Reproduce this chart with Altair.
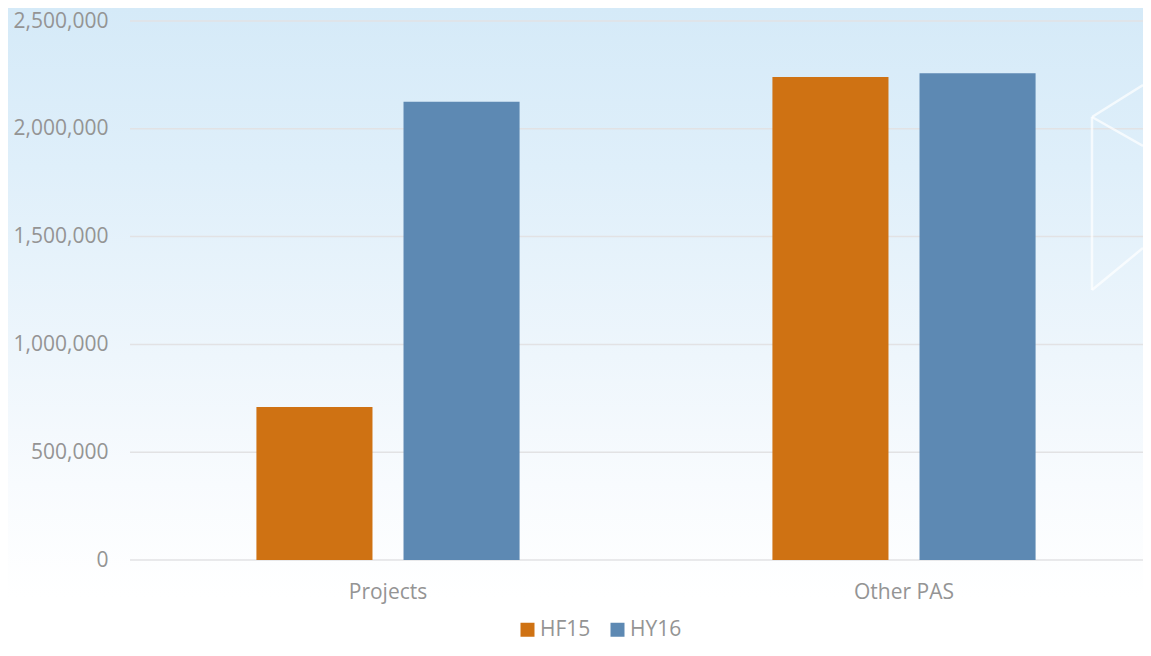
import altair as alt
import pandas as pd

# ---- data ----
categories = ["Projects", "Other PAS"]
series = ["HF15", "HY16"]
hf15_values = [710000, 2240000]
hy16_values = [2125000, 2258000]
y_ticks = [0, 500000, 1000000, 1500000, 2000000, 2500000]
series_colors = ["#CF7213", "#5D89B3"]

rows = []
for i, c in enumerate(categories):
    rows.append({"cat": c, "series": series[0], "value": hf15_values[i]})
    rows.append({"cat": c, "series": series[1], "value": hy16_values[i]})
df = pd.DataFrame(rows)
grid_df = pd.DataFrame({"tick": y_ticks})

# ---- layout / style ----
W, H = 1013, 539
PAD = {"left": 122, "top": 13, "right": 0, "bottom": 82}
FONT = "Open Sans"
GRAY = "#949494"
FS = 21

yscale = alt.Scale(domain=[0, 2500000], nice=False, zero=True)
yaxis = alt.Axis(
    values=y_ticks, format=",.0f", formatType="number", title=None,
    grid=False, domain=False, ticks=False, tickSize=0, labelPadding=22,
    labelFontSize=FS, labelColor=GRAY, labelFont=FONT, zindex=1,
)

bg = alt.Chart(alt.Data(values=[{"k": 1}])).mark_rect(
    fill=alt.Gradient(
        gradient="linear",
        stops=[
            alt.GradientStop(color="#d5eaf8", offset=0),
            alt.GradientStop(color="#dfeffa", offset=0.25),
            alt.GradientStop(color="#eef6fc", offset=0.55),
            alt.GradientStop(color="#f8fbfe", offset=0.75),
            alt.GradientStop(color="#ffffff", offset=0.93),
        ],
        x1=0, x2=0, y1=0, y2=1,
    ),
    strokeWidth=0,
).encode(
    x=alt.value(-PAD["left"]), x2=alt.value(W),
    y=alt.value(-PAD["top"]), y2=alt.value(H + PAD["bottom"]),
)

grid = alt.Chart(grid_df).mark_rule(color="#e2e2e4", strokeWidth=1.5).encode(
    y=alt.Y("tick:Q", scale=yscale, axis=yaxis)
)

bars = alt.Chart(df).mark_bar().encode(
    x=alt.X(
        "cat:N", sort=categories, title=None,
        scale=alt.Scale(range=[0, 1032], paddingInner=0.49, paddingOuter=0.245),
        axis=alt.Axis(domain=False, ticks=False, tickSize=0, labelPadding=21,
                      labelFontSize=FS, labelColor=GRAY, labelFont=FONT,
                      labelAngle=0, grid=False, zindex=1),
    ),
    xOffset=alt.XOffset("series:N", sort=series,
                        scale=alt.Scale(paddingInner=0.211, paddingOuter=0)),
    y=alt.Y("value:Q", scale=yscale, axis=yaxis),
    color=alt.Color(
        "series:N", sort=series,
        scale=alt.Scale(domain=series, range=series_colors),
        legend=alt.Legend(
            orient="none", legendX=387, legendY=598, direction="horizontal",
            title=None, symbolType="square", symbolSize=196,
            symbolStrokeWidth=0, labelFontSize=FS, labelFont=FONT,
            labelColor=GRAY, labelOffset=2, columnPadding=16, padding=0,
            zindex=1,
        ),
    ),
)

# faint decorative outline at the right edge of the reference background
DECOR = [
    (962, 96, 1013, 64),
    (962, 96, 1013, 125),
    (962, 96, 962, 269),
    (962, 269, 1013, 227),
]
decor_layers = [
    alt.Chart(alt.Data(values=[{"k": 1}])).mark_rule(
        color="#ffffff", strokeWidth=2.5, opacity=0.7
    ).encode(x=alt.value(a), y=alt.value(b), x2=alt.value(c), y2=alt.value(d))
    for a, b, c, d in DECOR
]

chart = alt.layer(bg, grid, bars, *decor_layers).properties(
    width=W, height=H, padding=PAD,
    autosize=alt.AutoSizeParams(type="none"),
).configure_view(stroke=None).configure(font=FONT)

chart.save("out.html", embed_options={"renderer": "svg", "actions": False})
